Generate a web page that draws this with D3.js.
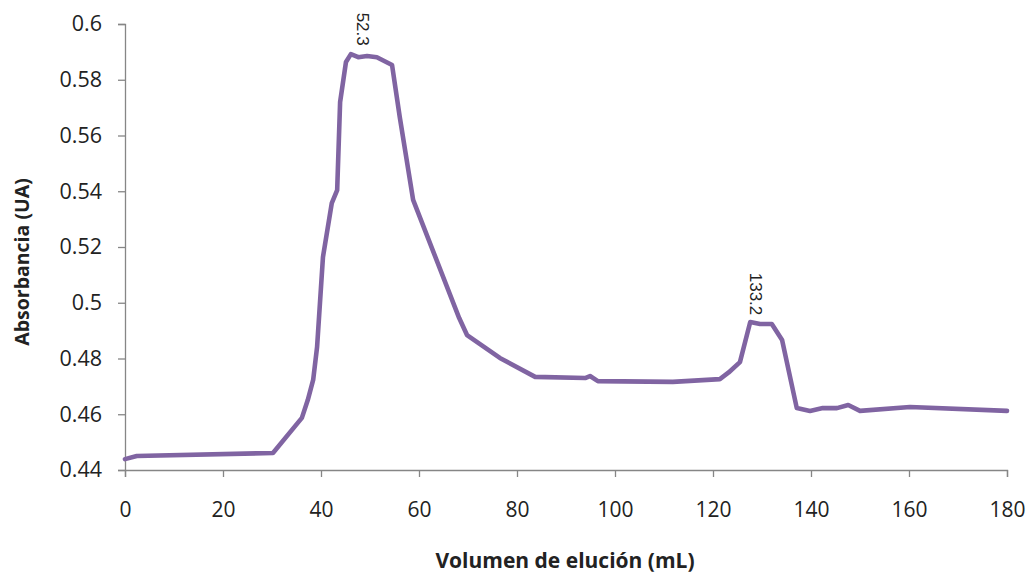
<!DOCTYPE html>
<html><head><meta charset="utf-8">
<script src="https://cdn.jsdelivr.net/npm/d3@7"></script>
<style>
html,body{margin:0;padding:0;background:#fff;}
svg{display:block;}
</style></head>
<body>
<svg id="chart" width="1031" height="574"></svg>
<script>
// ---- data ----
const volume = [0, 2.4, 30.2, 36.1, 37.3, 38.4, 39.2, 40.4, 42.2, 43.3, 43.9, 45.1, 46.1, 47.6, 49.4, 51.4, 54.5, 56.1, 58.8, 68.2, 69.8, 76.5, 83.7, 93.9, 94.9, 96.5, 111.8, 121.4, 123.2, 125.5, 127.6, 129.6, 132.0, 134.1, 137.1, 139.8, 142.4, 145.3, 147.6, 150.0, 160.2, 180];
const absorbance = [0.4439, 0.4450, 0.4461, 0.4587, 0.4651, 0.4723, 0.4841, 0.5164, 0.5357, 0.5404, 0.5720, 0.5864, 0.5892, 0.5881, 0.5885, 0.5881, 0.5853, 0.5663, 0.5369, 0.4945, 0.4884, 0.4802, 0.4734, 0.4730, 0.4737, 0.4719, 0.4716, 0.4726, 0.4750, 0.4787, 0.4931, 0.4924, 0.4924, 0.4866, 0.4622, 0.4612, 0.4622, 0.4622, 0.4633, 0.4612, 0.4626, 0.4612];
const peakLabels = ["52.3", "133.2"];
const peakLabelX = [48.4, 128.6];
const peakLabelY = [0.5922, 0.4955];
const xTicks = [0, 20, 40, 60, 80, 100, 120, 140, 160, 180];
const yTicks = [0.44, 0.46, 0.48, 0.5, 0.52, 0.54, 0.56, 0.58, 0.6];
const xTitle = "Volumen de elución (mL)";
const yTitle = "Absorbancia (UA)";

// ---- layout ----
const W = 1031, H = 574;
const m = {left: 125, right: 24, top: 24, bottom: 104};
const svg = d3.select("#chart");
const x = d3.scaleLinear().domain([0, 180]).range([m.left, W - m.right]);
const y = d3.scaleLinear().domain([0.44, 0.6]).range([H - m.bottom, m.top]);
const axisColor = "#868686";
const font = "'Open Sans', 'Liberation Sans', Arial, sans-serif";

// y axis
const gy = svg.append("g").attr("transform", `translate(${m.left},0)`)
  .call(d3.axisLeft(y).tickValues(yTicks).tickFormat(d => d3.format("")(+d.toFixed(2))).tickSizeOuter(0).tickSize(7).tickPadding(16));
gy.selectAll("path,line").attr("stroke", axisColor).attr("stroke-width", 1.3);
gy.selectAll("text").attr("font-family", font).attr("font-size", 21.5).attr("fill", "#222");

// x axis
const gx = svg.append("g").attr("transform", `translate(0,${H - m.bottom})`)
  .call(d3.axisBottom(x).tickValues(xTicks).tickFormat(d3.format("d")).tickSizeOuter(0).tickSize(7).tickPadding(25));
gx.selectAll("path,line").attr("stroke", axisColor).attr("stroke-width", 1.3);
gx.selectAll("text").attr("font-family", font).attr("font-size", 21).attr("fill", "#222");

// line
const line = d3.line().x((d, i) => x(volume[i])).y((d, i) => y(absorbance[i]));
svg.append("path").datum(absorbance)
  .attr("d", line)
  .attr("fill", "none")
  .attr("stroke", "#8064A2")
  .attr("stroke-width", 4.6)
  .attr("stroke-linejoin", "round")
  .attr("stroke-linecap", "round");

// peak labels (rotated)
peakLabels.forEach((t, i) => {
  svg.append("text")
    .attr("transform", `translate(${x(peakLabelX[i])},${y(peakLabelY[i])}) rotate(90)`)
    .attr("text-anchor", "end")
    .attr("dominant-baseline", "central")
    .attr("font-family", "'Liberation Sans', Arial, sans-serif")
    .attr("font-size", 17)
    .attr("fill", "#222")
    .text(t);
});

// axis titles
svg.append("text")
  .attr("x", 565).attr("y", 568)
  .attr("text-anchor", "middle")
  .attr("font-family", font).attr("font-weight", "bold").attr("font-size", 21)
  .attr("fill", "#222").text(xTitle);
svg.append("text")
  .attr("transform", `translate(29,${(m.top + H - m.bottom) / 2 + 15}) rotate(-90)`)
  .attr("text-anchor", "middle")
  .attr("font-family", font).attr("font-weight", "bold").attr("font-size", 19.5)
  .attr("fill", "#222").text(yTitle);
</script>
</body></html>
